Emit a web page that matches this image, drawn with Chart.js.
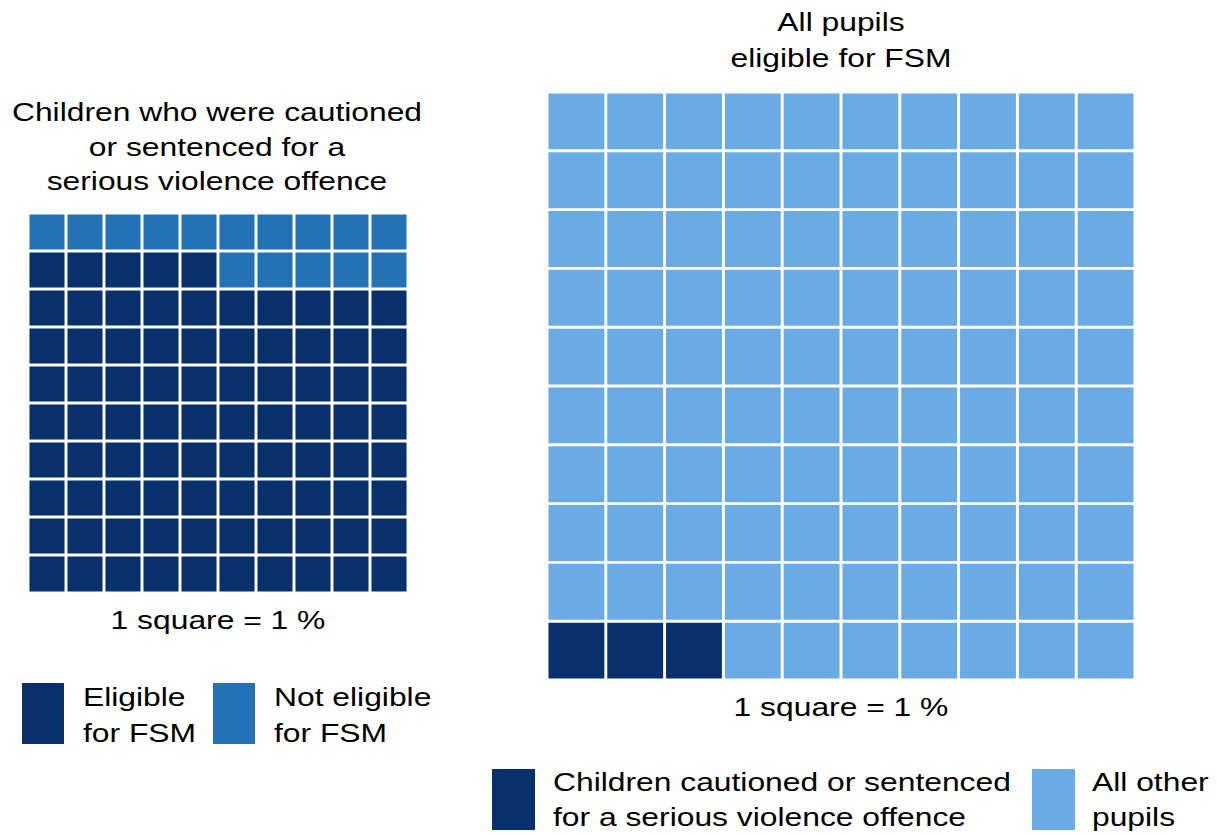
<!DOCTYPE html>
<html>
<head>
<meta charset="utf-8">
<script src="https://cdn.jsdelivr.net/npm/chart.js@4.4.1/dist/chart.umd.min.js"></script>
<style>
  body { margin: 0; width: 1217px; height: 835px; position: relative; background: #fff; overflow: hidden;
         font-family: "Liberation Sans", Arial, sans-serif; color: #000; }
  .txt { position: absolute; font-size: 26.5px; white-space: nowrap; transform: scaleX(1.2); }
  .ctr { width: 400px; text-align: center; transform-origin: center; }
  .lft { transform-origin: left center; }
  .sw { position: absolute; }
  canvas { position: absolute; }
</style>
</head>
<body>

<div class="txt ctr" style="left:17px; top:95px; line-height:34.5px;">Children who were cautioned<br>or sentenced for a<br>serious violence offence</div>
<div class="txt ctr" style="left:641px; top:4px; line-height:36px;">All pupils<br>eligible for FSM</div>

<canvas id="leftWaffle" width="380" height="380" style="left:28px; top:213px;"></canvas>
<canvas id="rightWaffle" width="588" height="588" style="left:547px; top:92px;"></canvas>

<div class="txt ctr" style="left:18px; top:603px; line-height:34px;">1 square = 1 %</div>
<div class="txt ctr" style="left:641px; top:690px; line-height:34px;">1 square = 1 %</div>

<div id="leftLegend"></div>
<div id="rightLegend"></div>

<script>
// --- data (1 square = 1 %) ---
const leftCategories = [['Eligible', 'for FSM'], ['Not eligible', 'for FSM']];
const leftPercent = [85, 15];
const leftColors = ['#08306b', '#2372b6'];

const rightCategories = [['Children cautioned or sentenced', 'for a serious violence offence'], ['All other', 'pupils']];
const rightPercent = [3, 97];
const rightColors = ['#08306b', '#6aaae5'];

const gridCols = ['1', '2', '3', '4', '5', '6', '7', '8', '9', '10'];
const gridRows = 10;

// rows fill from the bottom, left to right
function waffleDatasets(percent, colors, border) {
  const sets = [];
  for (let r = 0; r < gridRows; r++) {
    sets.push({
      data: gridCols.map(() => 1),
      backgroundColor: gridCols.map((c, i) => (r * gridCols.length + i) < percent[0] ? colors[0] : colors[1]),
      borderColor: '#ffffff',
      borderWidth: border,
      borderSkipped: false,
      barPercentage: 1,
      categoryPercentage: 1
    });
  }
  return sets;
}

function drawWaffle(id, percent, colors, border) {
  new Chart(document.getElementById(id), {
    type: 'bar',
    data: { labels: gridCols, datasets: waffleDatasets(percent, colors, border) },
    options: {
      responsive: false,
      animation: false,
      layout: { padding: 0 },
      plugins: { legend: { display: false }, tooltip: { enabled: false } },
      scales: {
        x: { stacked: true, display: false },
        y: { stacked: true, display: false, min: 0, max: gridRows }
      }
    }
  });
}

drawWaffle('leftWaffle', leftPercent, leftColors, 1.8);
drawWaffle('rightWaffle', rightPercent, rightColors, 1.8);

// legends (HTML, two-line labels)
function legend(holderId, cats, colors, items) {
  const holder = document.getElementById(holderId);
  cats.forEach((lines, i) => {
    const it = items[i];
    const sw = document.createElement('div');
    sw.className = 'sw';
    sw.style.cssText = `left:${it.sx}px; top:${it.sy}px; width:${it.sw}px; height:${it.sh}px; background:${colors[i]};`;
    holder.appendChild(sw);
    const tx = document.createElement('div');
    tx.className = 'txt lft';
    tx.style.cssText = `left:${it.tx}px; top:${it.ty}px; line-height:${it.lh}px;`;
    tx.innerHTML = lines.join('<br>');
    holder.appendChild(tx);
  });
}

legend('leftLegend', leftCategories, leftColors, [
  { sx: 22, sy: 683, sw: 42, sh: 61, tx: 83, ty: 679, lh: 36 },
  { sx: 213, sy: 683, sw: 42, sh: 61, tx: 274, ty: 679, lh: 36 }
]);
legend('rightLegend', rightCategories, rightColors, [
  { sx: 492, sy: 769, sw: 43, sh: 61, tx: 553, ty: 765, lh: 35 },
  { sx: 1032, sy: 769, sw: 43, sh: 61, tx: 1092, ty: 765, lh: 35 }
]);
</script>
</body>
</html>
